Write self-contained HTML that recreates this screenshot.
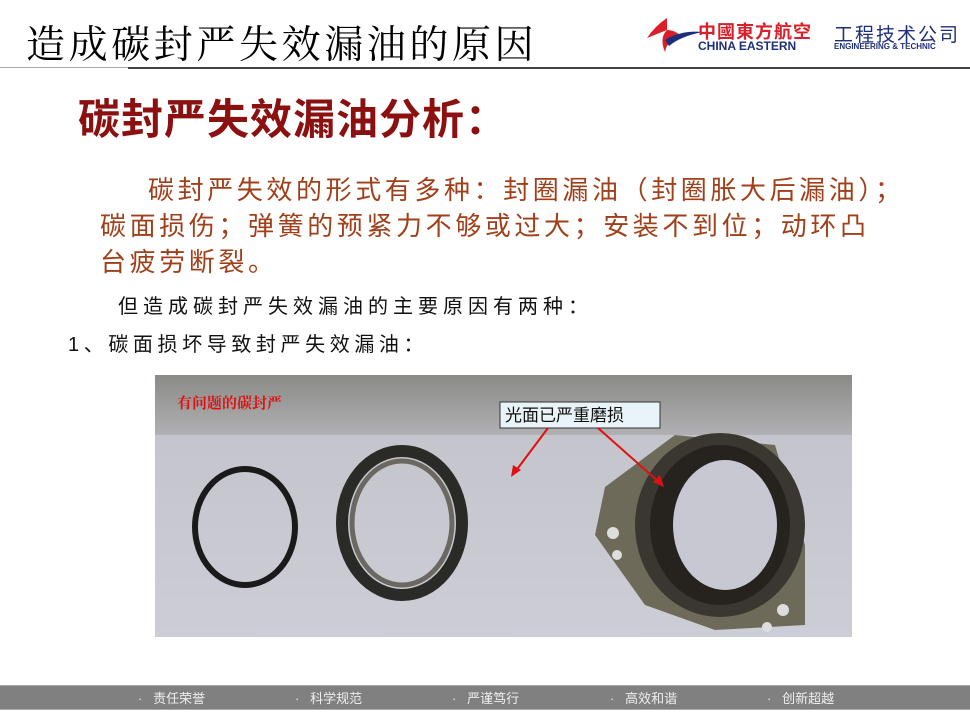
<!DOCTYPE html>
<html><head><meta charset="utf-8"><style>
body{margin:0;width:970px;height:728px;background:#fff;position:relative;overflow:hidden;font-family:"Liberation Sans","Noto Sans CJK SC",sans-serif}
.a{position:absolute;white-space:nowrap}
</style></head><body>
<div class="a" style="left:26px;top:14px;font-family:'Liberation Serif','Noto Serif CJK SC',serif;font-size:39px;color:#000;letter-spacing:3.6px">造成碳封严失效漏油的原因</div>
<div class="a" style="left:0;top:67px;width:128px;height:1px;background:#aaa"></div>
<div class="a" style="left:128px;top:67px;width:842px;height:2px;background:#444"></div>
<svg class="a" style="left:645px;top:16px" width="60" height="40"><path d="M22 2 Q10 10 2 22 L22 14 Q14 22 20 36 Q22 24 36 20 Q30 14 22 14 Z" fill="#d9202a"/><path d="M20 24 Q36 14 58 16 Q36 20 24 30 Z" fill="#1d2f7a"/></svg>
<div class="a" style="left:698px;top:18px;font-size:18px;font-weight:bold;color:#d9202a;letter-spacing:1px">中國東方航空</div>
<div class="a" style="left:698px;top:39px;font-size:12px;font-weight:bold;color:#1d2f7a">CHINA EASTERN</div>
<div class="a" style="left:834px;top:20px;font-size:19px;color:#1d2f7a;letter-spacing:2px">工程技术公司</div>
<div class="a" style="left:834px;top:42px;font-size:8px;font-weight:bold;color:#1d2f7a">ENGINEERING &amp; TECHNIC</div>

<div class="a" style="left:78px;top:86px;font-size:42px;font-weight:bold;color:#8b1010;letter-spacing:1px">碳封严失效漏油分析：</div>
<div class="a" style="left:100px;top:172px;font-size:26px;color:#a0401a;letter-spacing:3.6px;line-height:36px"><span style="padding-left:48px"></span>碳封严失效的形式有多种：封圈漏油（封圈胀大后漏油）；<br>碳面损伤；弹簧的预紧力不够或过大；安装不到位；动环凸<br>台疲劳断裂。</div>
<div class="a" style="left:118px;top:290px;font-size:20px;color:#111;letter-spacing:5px">但造成碳封严失效漏油的主要原因有两种：</div>
<div class="a" style="left:68px;top:328px;font-size:20px;color:#111;letter-spacing:4.6px">1、碳面损坏导致封严失效漏油：</div>

<svg class="a" style="left:155px;top:375px" width="697" height="262">
<defs><linearGradient id="g" x1="0" y1="0" x2="0" y2="1"><stop offset="0" stop-color="#8a8a86"/><stop offset="0.25" stop-color="#b4b4b8"/><stop offset="1" stop-color="#cfd0d8"/></linearGradient></defs>
<rect width="697" height="262" fill="url(#g)"/>
<rect x="0" y="60" width="697" height="202" fill="#ccccd6" opacity="0.7"/>
<ellipse cx="90" cy="152" rx="50" ry="58" fill="none" stroke="#1a1a1a" stroke-width="6"/>
<ellipse cx="247" cy="148" rx="60" ry="72" fill="none" stroke="#2a2a26" stroke-width="12"/>
<ellipse cx="247" cy="148" rx="50" ry="62" fill="none" stroke="#6a6860" stroke-width="5"/>
<path d="M450 112 L520 60 L620 70 L650 170 L650 250 L560 255 L490 230 L440 160 Z" fill="#6e6a5a"/>
<ellipse cx="565" cy="150" rx="85" ry="92" fill="#3a3630"/>
<ellipse cx="565" cy="150" rx="70" ry="80" fill="#26221e"/>
<ellipse cx="570" cy="150" rx="52" ry="65" fill="#c8c8d2"/>
<circle cx="458" cy="158" r="6" fill="#ddd"/><circle cx="462" cy="180" r="5" fill="#ddd"/><circle cx="628" cy="235" r="6" fill="#ddd"/><circle cx="612" cy="252" r="5" fill="#ddd"/>
<text x="22" y="33" font-size="15" fill="#e01010" font-weight="bold" font-family="Liberation Serif,Noto Serif CJK SC,serif">有问题的碳封严</text>
<rect x="345" y="27" width="160" height="26" fill="#e8f4f8" stroke="#333"/>
<text x="350" y="46" font-size="17" fill="#111" font-family="Liberation Sans,Noto Sans CJK SC,sans-serif">光面已严重磨损</text>
<line x1="393" y1="53" x2="360" y2="97" stroke="#e01010" stroke-width="2"/><path d="M356 102 L358 90 L366 95 Z" fill="#e01010"/>
<line x1="443" y1="53" x2="505" y2="108" stroke="#e01010" stroke-width="2"/><path d="M509 112 L498 107 L505 100 Z" fill="#e01010"/>
</svg>

<div class="a" style="left:0;top:685px;width:970px;height:23px;background:#808080;border-top:1px solid #aaa;border-bottom:1px solid #aaa"></div>
<div class="a" style="top:688px;left:0;width:970px;font-size:13px;color:#eee">
<span class="a" style="left:138px">·&nbsp;&nbsp;&nbsp;责任荣誉</span>
<span class="a" style="left:295px">·&nbsp;&nbsp;&nbsp;科学规范</span>
<span class="a" style="left:452px">·&nbsp;&nbsp;&nbsp;严谨笃行</span>
<span class="a" style="left:610px">·&nbsp;&nbsp;&nbsp;高效和谐</span>
<span class="a" style="left:767px">·&nbsp;&nbsp;&nbsp;创新超越</span>
</div>
</body></html>
